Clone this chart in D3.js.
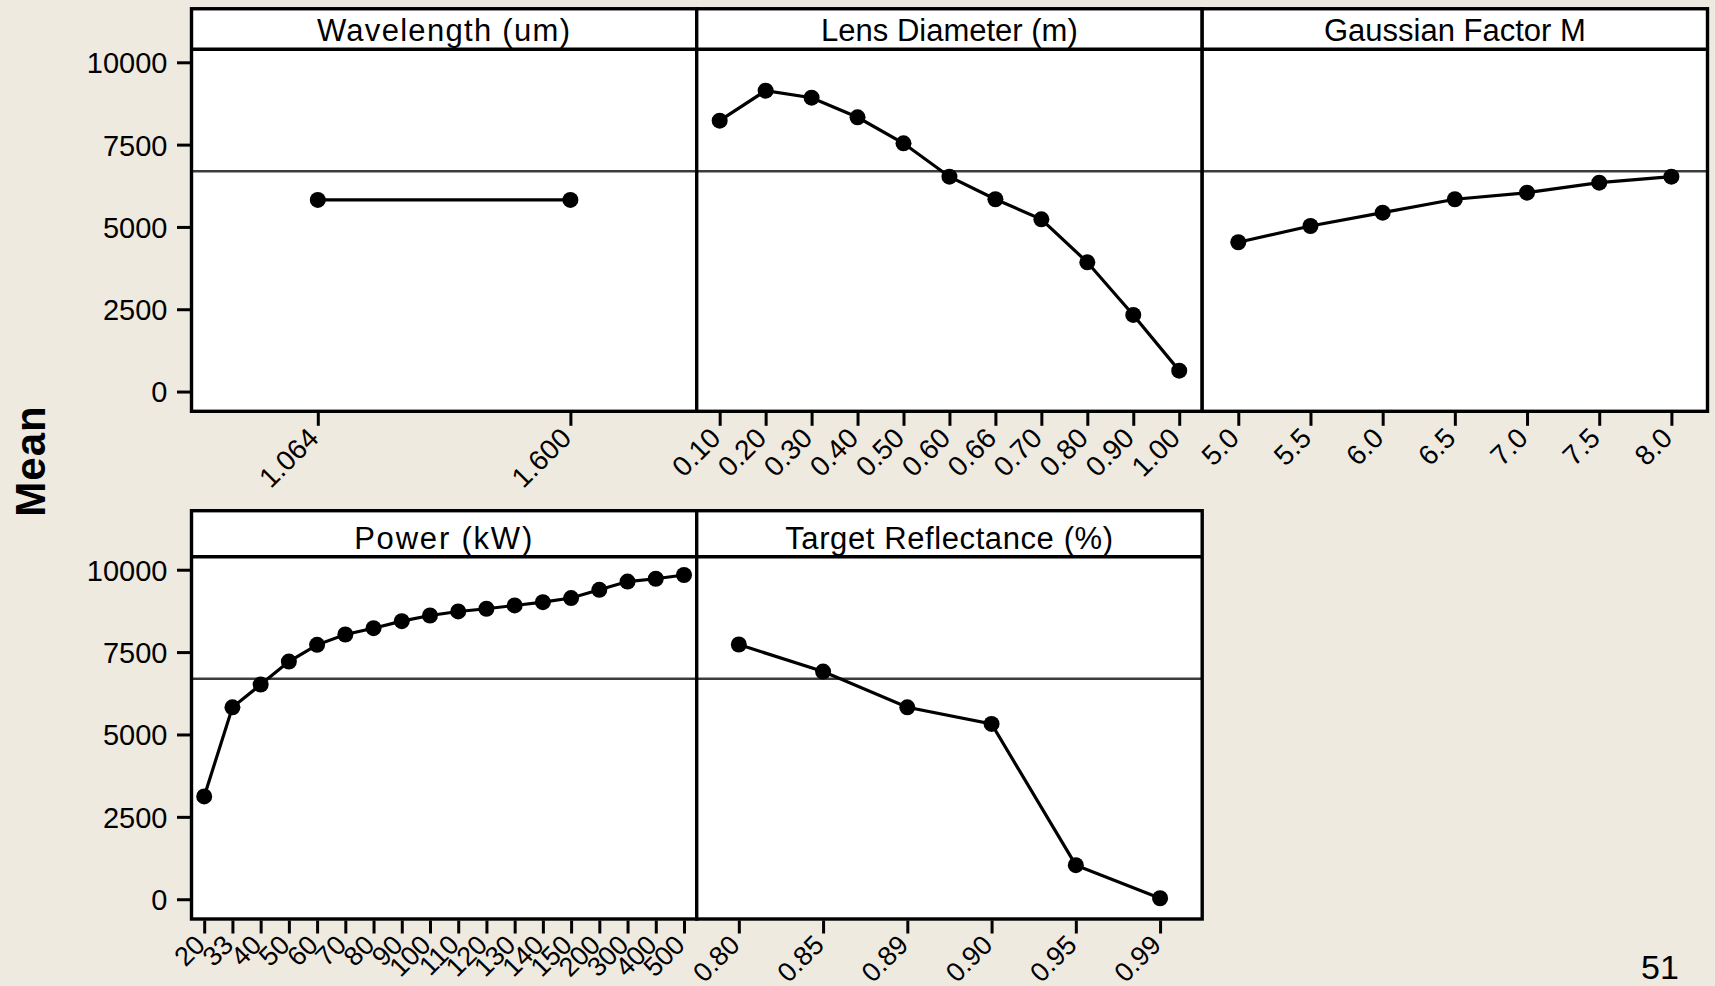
<!DOCTYPE html>
<html>
<head>
<meta charset="utf-8">
<script src="https://cdn.jsdelivr.net/npm/d3@7"></script>
<style>
  html, body { margin: 0; padding: 0; background: #EEEAE0; }
  svg { display: block; }
  text { font-family: "Liberation Sans", Arial, sans-serif; fill: #000; }
</style>
</head>
<body>
<svg id="chart" width="1715" height="986"></svg>
<script>
// ---------------- DATA ----------------
const wavelengthLabels = ["1.064", "1.600"];
const wavelengthMeans  = [5820, 5820];

const lensLabels = ["0.10","0.20","0.30","0.40","0.50","0.60","0.66","0.70","0.80","0.90","1.00"];
const lensMeans  = [8227, 9138, 8925, 8330, 7540, 6526, 5840, 5232, 3926, 2326, 635];

const gaussLabels = ["5.0","5.5","6.0","6.5","7.0","7.5","8.0"];
const gaussMeans  = [4534, 5029, 5433, 5840, 6040, 6344, 6526];

const powerLabels = ["20","33","40","50","60","70","80","90","100","110","120","130","140","150","200","300","400","500"];
const powerMeans  = [3119, 5824, 6514, 7213, 7720, 8033, 8225, 8438, 8611, 8733, 8815, 8915, 9015, 9140, 9390, 9640, 9726, 9840];

const reflLabels = ["0.80","0.85","0.89","0.90","0.95","0.99"];
const reflMeans  = [7730, 6909, 5824, 5319, 1033, 30];

const panelTitles = ["Wavelength (um)", "Lens Diameter (m)", "Gaussian Factor M", "Power (kW)", "Target Reflectance (%)"];
const yTickValues = [0, 2500, 5000, 7500, 10000];
const grandMean = 6690;
const yAxisTitle = "Mean";
const pageNumber = "51";

// ---------------- LAYOUT ----------------
const svg = d3.select("#chart");
const colX = [191.5, 696.7, 1202.2, 1707.5];
const rows = [
  { frameTop: 8.75, stripBottom: 49.3, plotBottom: 411.3 },
  { frameTop: 510.7, stripBottom: 556.7, plotBottom: 919 }
];
const yDomain = [-600, 10395];

const panels = [
  { title: panelTitles[0], labels: wavelengthLabels, values: wavelengthMeans, row: 0, col: 0, pad: 0.5, ls: 1.3 },
  { title: panelTitles[1], labels: lensLabels, values: lensMeans, row: 0, col: 1, pad: 0.5, ls: 0 },
  { title: panelTitles[2], labels: gaussLabels, values: gaussMeans, row: 0, col: 2, pad: 0.5, ls: 0 },
  { title: panelTitles[3], labels: powerLabels, values: powerMeans, row: 1, col: 0, pad: 0.45, ls: 1.8 },
  { title: panelTitles[4], labels: reflLabels, values: reflMeans, row: 1, col: 1, pad: 0.5, ls: 0.6 }
];

const frameW = 3.4;

panels.forEach(p => {
  const r = rows[p.row];
  const x0 = colX[p.col], x1 = colX[p.col + 1];
  const x = d3.scalePoint().domain(p.labels).range([x0, x1]).padding(p.pad);
  const y = d3.scaleLinear().domain(yDomain).range([r.plotBottom, r.stripBottom]);
  const g = svg.append("g");

  g.append("rect").attr("x", x0).attr("y", r.frameTop).attr("width", x1 - x0).attr("height", r.plotBottom - r.frameTop)
    .attr("fill", "#fff");

  g.append("line").attr("x1", x0).attr("x2", x1).attr("y1", y(grandMean)).attr("y2", y(grandMean))
    .attr("stroke", "#3c3c3c").attr("stroke-width", 2.6);

  const data = p.labels.map((l, i) => ({ label: l, value: p.values[i] }));
  g.append("path").datum(data)
    .attr("d", d3.line().x(d => x(d.label)).y(d => y(d.value)))
    .attr("fill", "none").attr("stroke", "#000").attr("stroke-width", 3.2);
  g.selectAll("circle.pt").data(data).enter().append("circle")
    .attr("class", "pt")
    .attr("cx", d => x(d.label)).attr("cy", d => y(d.value)).attr("r", 8).attr("fill", "#000");

  g.append("rect").attr("x", x0).attr("y", r.frameTop).attr("width", x1 - x0).attr("height", r.plotBottom - r.frameTop)
    .attr("fill", "none").attr("stroke", "#000").attr("stroke-width", frameW);
  g.append("line").attr("x1", x0).attr("x2", x1).attr("y1", r.stripBottom).attr("y2", r.stripBottom)
    .attr("stroke", "#000").attr("stroke-width", frameW);

  g.append("text").attr("x", (x0 + x1) / 2).attr("y", r.stripBottom - 8)
    .attr("text-anchor", "middle").attr("font-size", 31).attr("letter-spacing", p.ls).text(p.title);

  const ax = g.append("g").attr("transform", `translate(0,${r.plotBottom + 1.5})`)
    .call(d3.axisBottom(x).tickSize(13).tickSizeOuter(0));
  ax.select(".domain").remove();
  ax.selectAll(".tick line").attr("stroke", "#000").attr("stroke-width", 3);
  ax.selectAll(".tick text")
    .attr("x", 0).attr("y", 0).attr("dy", 0)
    .attr("text-anchor", "end")
    .attr("transform", p.row === 0 ? "translate(2,27) rotate(-45)" : "translate(2,26) rotate(-45)")
    .attr("font-family", "Liberation Sans, Arial, sans-serif")
    .attr("font-size", p.row === 0 ? 28 : 27).attr("fill", "#000");

  if (p.col === 0) {
    const ay = g.append("g").attr("transform", `translate(${x0 - 1.5},0)`)
      .call(d3.axisLeft(y).tickValues(yTickValues).tickSize(13).tickSizeOuter(0).tickFormat(d3.format("d")));
    ay.select(".domain").remove();
    ay.selectAll(".tick line").attr("stroke", "#000").attr("stroke-width", 3);
    ay.selectAll(".tick text")
      .attr("x", -22.5).attr("dy", "0.36em")
      .attr("font-family", "Liberation Sans, Arial, sans-serif")
      .attr("font-size", 29).attr("fill", "#000");
  }
});

svg.append("text")
  .attr("transform", "translate(45,461) rotate(-90)")
  .attr("text-anchor", "middle")
  .attr("font-weight", "bold").attr("font-size", 42).attr("letter-spacing", 1)
  .text(yAxisTitle);

svg.append("text").attr("x", 1641).attr("y", 979).attr("font-size", 34).text(pageNumber);
</script>
</body>
</html>
